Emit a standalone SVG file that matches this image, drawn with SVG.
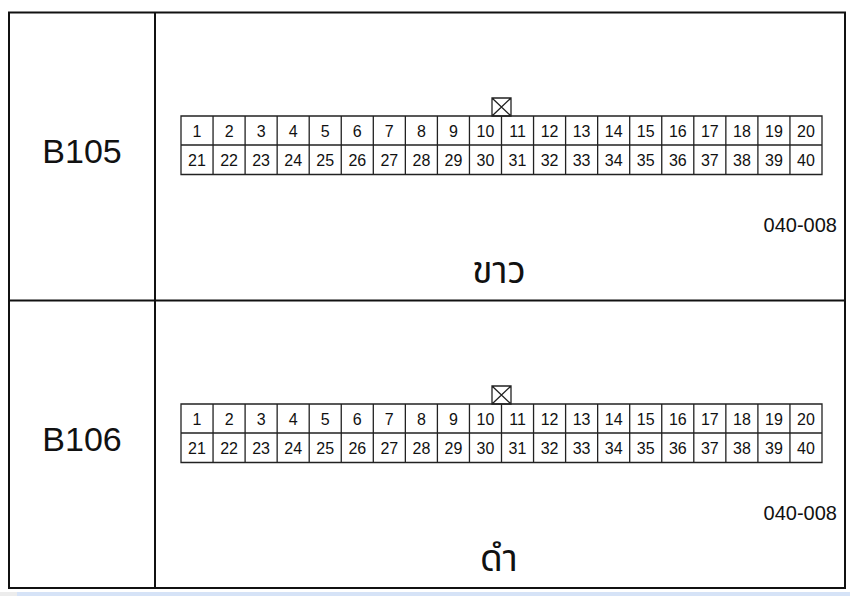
<svg xmlns="http://www.w3.org/2000/svg" width="850" height="596" viewBox="0 0 850 596">
<style>
.frame{fill:none;stroke:#111;stroke-width:2}
.grid{fill:none;stroke:#222;stroke-width:1.3}
.lbl{font-family:"Liberation Sans",Arial,sans-serif;font-size:34px;fill:#111;text-anchor:middle}
.n{font-family:"Liberation Sans",Arial,sans-serif;font-size:16px;fill:#111;text-anchor:middle}
.code{font-family:"Liberation Sans",Arial,sans-serif;font-size:20px;fill:#111;text-anchor:end}
.th{font-family:"Noto Sans Thai","Noto Sans Thai UI","Noto Sans","DejaVu Sans",sans-serif;font-size:37px;fill:#111;text-anchor:middle}
</style>
<rect width="850" height="596" fill="#fff"/>
<rect x="0" y="592" width="17" height="4" fill="#ececec"/>
<rect x="17" y="592" width="833" height="4" fill="#d6e3f7"/>
<g id="frame">
<rect class="frame" x="9" y="12.5" width="836" height="575.5"/>
<line class="frame" x1="155" y1="12.5" x2="155" y2="588"/>
<line class="frame" x1="9" y1="300.5" x2="845" y2="300.5"/>
</g>
<g id="B105">
<text class="lbl" x="82" y="163">B105</text>
<path class="grid" d="M181,116H822V174.5H181Z M181,145H822 M213.05,116V174.5 M245.1,116V174.5 M277.15,116V174.5 M309.2,116V174.5 M341.25,116V174.5 M373.3,116V174.5 M405.35,116V174.5 M437.4,116V174.5 M469.45,116V174.5 M501.5,116V174.5 M533.55,116V174.5 M565.6,116V174.5 M597.65,116V174.5 M629.7,116V174.5 M661.75,116V174.5 M693.8,116V174.5 M725.85,116V174.5 M757.9,116V174.5 M789.95,116V174.5"/>
<path class="grid" d="M492,98H511V116H492Z M492,98L511,116 M511,98L492,116"/>
<g class="n">
<text x="197" y="137">1</text><text x="229.1" y="137">2</text><text x="261.1" y="137">3</text><text x="293.2" y="137">4</text><text x="325.2" y="137">5</text><text x="357.3" y="137">6</text><text x="389.3" y="137">7</text><text x="421.4" y="137">8</text><text x="453.4" y="137">9</text><text x="485.5" y="137">10</text><text x="517.5" y="137">11</text><text x="549.6" y="137">12</text><text x="581.6" y="137">13</text><text x="613.7" y="137">14</text><text x="645.7" y="137">15</text><text x="677.8" y="137">16</text><text x="709.8" y="137">17</text><text x="741.9" y="137">18</text><text x="773.9" y="137">19</text><text x="806" y="137">20</text>
<text x="197" y="165.5">21</text><text x="229.1" y="165.5">22</text><text x="261.1" y="165.5">23</text><text x="293.2" y="165.5">24</text><text x="325.2" y="165.5">25</text><text x="357.3" y="165.5">26</text><text x="389.3" y="165.5">27</text><text x="421.4" y="165.5">28</text><text x="453.4" y="165.5">29</text><text x="485.5" y="165.5">30</text><text x="517.5" y="165.5">31</text><text x="549.6" y="165.5">32</text><text x="581.6" y="165.5">33</text><text x="613.7" y="165.5">34</text><text x="645.7" y="165.5">35</text><text x="677.8" y="165.5">36</text><text x="709.8" y="165.5">37</text><text x="741.9" y="165.5">38</text><text x="773.9" y="165.5">39</text><text x="806" y="165.5">40</text>
</g>
<text class="code" x="837" y="232">040-008</text>
<text class="th" x="499" y="283">ขาว</text>
</g>
<g id="B106">
<text class="lbl" x="82" y="451">B106</text>
<path class="grid" d="M181,404H822V462.5H181Z M181,433H822 M213.05,404V462.5 M245.1,404V462.5 M277.15,404V462.5 M309.2,404V462.5 M341.25,404V462.5 M373.3,404V462.5 M405.35,404V462.5 M437.4,404V462.5 M469.45,404V462.5 M501.5,404V462.5 M533.55,404V462.5 M565.6,404V462.5 M597.65,404V462.5 M629.7,404V462.5 M661.75,404V462.5 M693.8,404V462.5 M725.85,404V462.5 M757.9,404V462.5 M789.95,404V462.5"/>
<path class="grid" d="M492,386H511V404H492Z M492,386L511,404 M511,386L492,404"/>
<g class="n">
<text x="197" y="425">1</text><text x="229.1" y="425">2</text><text x="261.1" y="425">3</text><text x="293.2" y="425">4</text><text x="325.2" y="425">5</text><text x="357.3" y="425">6</text><text x="389.3" y="425">7</text><text x="421.4" y="425">8</text><text x="453.4" y="425">9</text><text x="485.5" y="425">10</text><text x="517.5" y="425">11</text><text x="549.6" y="425">12</text><text x="581.6" y="425">13</text><text x="613.7" y="425">14</text><text x="645.7" y="425">15</text><text x="677.8" y="425">16</text><text x="709.8" y="425">17</text><text x="741.9" y="425">18</text><text x="773.9" y="425">19</text><text x="806" y="425">20</text>
<text x="197" y="453.5">21</text><text x="229.1" y="453.5">22</text><text x="261.1" y="453.5">23</text><text x="293.2" y="453.5">24</text><text x="325.2" y="453.5">25</text><text x="357.3" y="453.5">26</text><text x="389.3" y="453.5">27</text><text x="421.4" y="453.5">28</text><text x="453.4" y="453.5">29</text><text x="485.5" y="453.5">30</text><text x="517.5" y="453.5">31</text><text x="549.6" y="453.5">32</text><text x="581.6" y="453.5">33</text><text x="613.7" y="453.5">34</text><text x="645.7" y="453.5">35</text><text x="677.8" y="453.5">36</text><text x="709.8" y="453.5">37</text><text x="741.9" y="453.5">38</text><text x="773.9" y="453.5">39</text><text x="806" y="453.5">40</text>
</g>
<text class="code" x="837" y="520">040-008</text>
<text class="th" x="499" y="571">ดำ</text>
</g>
</svg>
